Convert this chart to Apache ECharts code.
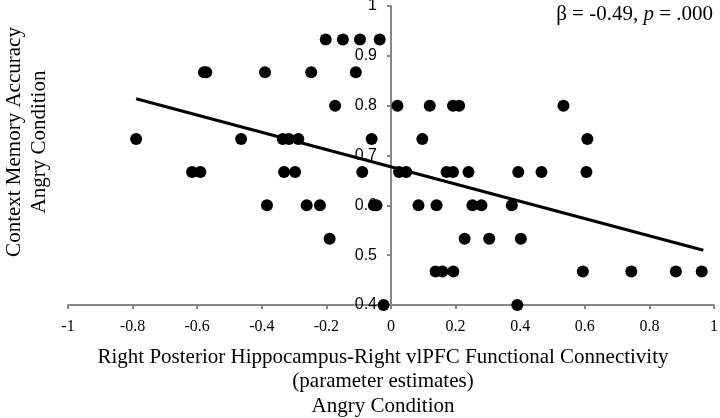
<!DOCTYPE html>
<html>
<head>
<meta charset="utf-8">
<script src="https://cdn.jsdelivr.net/npm/echarts@6/dist/echarts.min.js"></script>
<style>html,body{margin:0;padding:0;background:#fff;}#c{width:720px;height:418px;}</style>
</head>
<body>
<div id="c"></div>
<script>
// Scatter points: connectivity (x) vs context memory accuracy (y)
const xValues = [
  -0.202, -0.149, -0.096, -0.035,
  -0.579, -0.572, -0.390, -0.247, -0.109,
  -0.173, 0.020, 0.120, 0.192, 0.211, 0.534,
  -0.789, -0.464, -0.335, -0.316, -0.287, -0.060, 0.097, 0.608,
  -0.616, -0.590, -0.331, -0.297, -0.089, 0.025, 0.047, 0.172, 0.192, 0.240, 0.394, 0.466, 0.605,
  -0.384, -0.261, -0.220, -0.053, -0.045, 0.085, 0.141, 0.252, 0.280, 0.374,
  -0.190, 0.228, 0.304, 0.402,
  0.138, 0.159, 0.193, 0.594, 0.744, 0.882, 0.962,
  -0.023, 0.391
];
const yValues = [
  0.933, 0.933, 0.933, 0.933,
  0.867, 0.867, 0.867, 0.867, 0.867,
  0.8, 0.8, 0.8, 0.8, 0.8, 0.8,
  0.733, 0.733, 0.733, 0.733, 0.733, 0.733, 0.733, 0.733,
  0.667, 0.667, 0.667, 0.667, 0.667, 0.667, 0.667, 0.667, 0.667, 0.667, 0.667, 0.667, 0.667,
  0.6, 0.6, 0.6, 0.6, 0.6, 0.6, 0.6, 0.6, 0.6, 0.6,
  0.533, 0.533, 0.533, 0.533,
  0.467, 0.467, 0.467, 0.467, 0.467, 0.467, 0.467,
  0.4, 0.4
];
// Fitted regression line endpoints
const fitX = [-0.789, 0.967];
const fitY = [0.814, 0.510];

const xTicks = { min: -1, max: 1, step: 0.2 };
const yTicks = { min: 0.4, max: 1, step: 0.1 };

const xTitle = 'Right Posterior Hippocampus-Right vlPFC Functional Connectivity\n(parameter estimates)\nAngry Condition';
const yTitle = 'Context Memory Accuracy\nAngry Condition';
const statText = 'β = -0.49, {it|p} = .000';

const points = xValues.map((x, i) => [x, yValues[i]]);
const fit = fitX.map((x, i) => [x, fitY[i]]);

const W = 720, gridLeft = 68, gridRight = 6;
const plotW = W - gridLeft - gridRight;
// y axis crosses the x axis at x = 0
const yAxisOffset = -plotW * (0 - xTicks.min) / (xTicks.max - xTicks.min);

const axisGray = '#878787';
const chart = echarts.init(document.getElementById('c'), null, { renderer: 'canvas' });
chart.setOption({
  animation: false,
  backgroundColor: '#ffffff',
  grid: { left: gridLeft, right: gridRight, top: 6, bottom: 113, containLabel: false, outerBoundsMode: 'none' },
  xAxis: {
    type: 'value',
    min: xTicks.min, max: xTicks.max, interval: xTicks.step,
    axisLine: { show: true, onZero: false, lineStyle: { color: axisGray, width: 2 } },
    axisTick: { show: true, length: 4, lineStyle: { color: axisGray, width: 2 } },
    splitLine: { show: false },
    axisLabel: {
      margin: 14, color: '#000', fontFamily: 'Liberation Serif', fontSize: 16,
      formatter: v => (Math.abs(v) < 1e-9 ? '0' : String(+v.toFixed(1)))
    },
    name: xTitle,
    nameLocation: 'middle',
    nameGap: 40,
    nameTextStyle: { color: '#000', fontFamily: 'Liberation Serif', fontSize: 21, lineHeight: 24.5, padding: [0, 16, 0, 0] }
  },
  yAxis: {
    type: 'value',
    position: 'left',
    offset: yAxisOffset,
    min: yTicks.min, max: yTicks.max, interval: yTicks.step,
    axisLine: { show: true, onZero: false, lineStyle: { color: axisGray, width: 2 } },
    axisTick: { show: true, length: 4, lineStyle: { color: axisGray, width: 2 } },
    splitLine: { show: false },
    axisLabel: {
      margin: 14, color: '#000', fontFamily: 'Liberation Sans', fontSize: 16,
      formatter: v => String(+v.toFixed(1))
    }
  },
  graphic: [
    {
      type: 'text',
      x: 27, y: 142,
      rotation: Math.PI / 2,
      style: {
        text: yTitle, fill: '#000', font: '21px "Liberation Serif"',
        align: 'center', verticalAlign: 'middle', lineHeight: 25
      }
    },
    {
      type: 'text',
      x: 713, y: 14,
      style: {
        text: statText, fill: '#000', font: '21px "Liberation Serif"',
        align: 'right', verticalAlign: 'middle',
        rich: { it: { fontStyle: 'italic', fontFamily: 'Liberation Serif', fontSize: 21 } }
      }
    }
  ],
  series: [
    {
      type: 'line',
      data: fit,
      symbol: 'none',
      lineStyle: { color: '#000', width: 3 },
      z: 3
    },
    {
      type: 'scatter',
      data: points,
      symbol: 'circle',
      symbolSize: 12,
      itemStyle: { color: '#000', opacity: 1 },
      z: 4
    }
  ]
});
</script>
</body>
</html>
